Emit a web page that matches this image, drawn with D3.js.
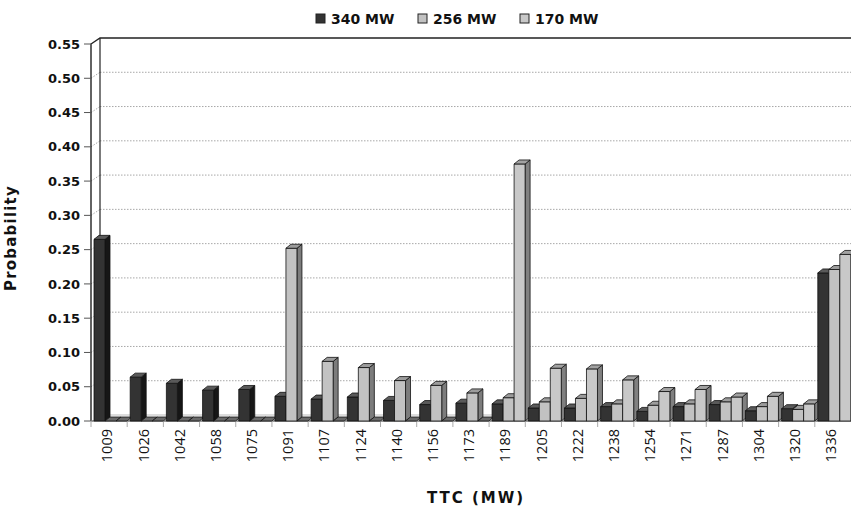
<!DOCTYPE html>
<html>
<head>
<meta charset="utf-8">
<script src="https://cdn.jsdelivr.net/npm/d3@7"></script>
<style>
    body { margin: 0; background: #fff; }
    svg { display: block; font-family: 'DejaVu Sans', sans-serif; }
</style>
</head>
<body>
<svg width="851" height="506"></svg>
<script>
const categories = ['1009', '1026', '1042', '1058', '1075', '1091', '1107', '1124', '1140', '1156', '1173',
    '1189', '1205', '1222', '1238', '1254', '1271', '1287', '1304', '1320', '1336'];
const seriesNames = ['340 MW', '256 MW', '170 MW'];
const values340 = [0.265, 0.064, 0.055, 0.045, 0.046, 0.036, 0.032, 0.035, 0.030, 0.024, 0.026,
    0.025, 0.019, 0.019, 0.021, 0.014, 0.021, 0.024, 0.015, 0.018, 0.216];
const values256 = [0, 0, 0, 0, 0, 0.252, 0.087, 0.078, 0.059, 0.052, 0.041,
    0.034, 0.028, 0.033, 0.025, 0.023, 0.025, 0.028, 0.021, 0.017, 0.221];
const values170 = [0, 0, 0, 0, 0, 0, 0, 0, 0, 0, 0,
    0.375, 0.077, 0.076, 0.060, 0.043, 0.046, 0.035, 0.036, 0.025, 0.243];
const yTicks = [0, 0.05, 0.10, 0.15, 0.20, 0.25, 0.30, 0.35, 0.40, 0.45, 0.50, 0.55];

document.addEventListener('DOMContentLoaded', () => {
    const WALL_DX = 9, WALL_DY = 6,     // depth of the back wall
        BAR_DX = 5, BAR_DY = 4,         // depth of each bar
        LEFT = 91, RIGHT = 851, BOTTOM = 421, TOP = 44;

    const svg = d3.select('svg');

    // face colours for each series: front, side, top
    const colors = [
        { front: '#333333', side: '#161616', top: '#5a5a5a' },
        { front: '#c2c2c2', side: '#7c7c7c', top: '#9c9c9c' },
        { front: '#c8c8c8', side: '#808080', top: '#a2a2a2' }
    ];

    const data = categories.map((c, i) => ({
        cat: c,
        vals: [values340[i], values256[i], values170[i]]
    }));

    const x = d3.scaleBand().domain(categories).range([LEFT, RIGHT]);
    const xs = d3.scaleBand().domain(d3.range(3)).range([3, 36]);
    const y = d3.scaleLinear().domain([0, 0.55]).range([BOTTOM, TOP]);

    // back wall gridlines (dotted) plus the diagonal on the side wall
    const grid = svg.append('g');
    yTicks.slice(1, -1).forEach(v => {
        grid.append('line')
            .attr('x1', LEFT + WALL_DX).attr('x2', RIGHT)
            .attr('y1', y(v) - WALL_DY).attr('y2', y(v) - WALL_DY)
            .attr('stroke', '#a8a8a8').attr('stroke-dasharray', '1.5,1.5');
        grid.append('line')
            .attr('x1', LEFT).attr('x2', LEFT + WALL_DX)
            .attr('y1', y(v)).attr('y2', y(v) - WALL_DY)
            .attr('stroke', '#a8a8a8').attr('stroke-dasharray', '1.5,1.5');
    });

    // walls outline
    svg.append('path')
        .attr('d', `M${LEFT},${BOTTOM} L${LEFT},${y(0.55)} L${LEFT + WALL_DX},${y(0.55) - WALL_DY} L${RIGHT},${y(0.55) - WALL_DY}`)
        .attr('fill', 'none').attr('stroke', '#222').attr('stroke-width', 1.4);
    svg.append('line')
        .attr('x1', LEFT + WALL_DX).attr('x2', LEFT + WALL_DX)
        .attr('y1', y(0.55) - WALL_DY).attr('y2', BOTTOM - WALL_DY)
        .attr('stroke', '#222').attr('stroke-width', 1.2);
    svg.append('line')
        .attr('x1', LEFT + WALL_DX).attr('x2', RIGHT)
        .attr('y1', BOTTOM - WALL_DY).attr('y2', BOTTOM - WALL_DY)
        .attr('stroke', '#bbb');
    svg.append('line')
        .attr('x1', LEFT).attr('x2', RIGHT)
        .attr('y1', BOTTOM).attr('y2', BOTTOM)
        .attr('stroke', '#777').attr('stroke-width', 1.5);

    // y axis ticks + labels
    const yAxis = svg.append('g');
    yTicks.forEach(v => {
        yAxis.append('line')
            .attr('x1', LEFT - 7).attr('x2', LEFT)
            .attr('y1', y(v)).attr('y2', y(v))
            .attr('stroke', '#555');
        yAxis.append('text')
            .attr('x', 80).attr('y', y(v)).attr('dy', '0.36em')
            .attr('text-anchor', 'end')
            .attr('font-size', 13).attr('font-weight', 'bold').attr('fill', '#111')
            .text(v.toFixed(2));
    });

    // x axis ticks at category boundaries
    categories.forEach(c => {
        svg.append('line')
            .attr('x1', x(c)).attr('x2', x(c))
            .attr('y1', BOTTOM).attr('y2', BOTTOM + 6)
            .attr('stroke', '#aaa');
    });

    // bars, left to right so each one covers its neighbour's side face
    const bars = svg.append('g');
    data.forEach(d => {
        d.vals.forEach((v, s) => {
            const x0 = x(d.cat) + xs(s),
                w = xs.bandwidth(),
                yt = y(v),
                c = colors[s];
            const g = bars.append('g').attr('stroke', '#111').attr('stroke-width', 0.8).attr('stroke-linejoin', 'round');
            if (v > 0) {
                g.append('path')
                    .attr('d', `M${x0 + w},${yt} L${x0 + w + BAR_DX},${yt - BAR_DY} L${x0 + w + BAR_DX},${BOTTOM - BAR_DY} L${x0 + w},${BOTTOM} Z`)
                    .attr('fill', c.side);
                g.append('rect')
                    .attr('x', x0).attr('y', yt)
                    .attr('width', w).attr('height', BOTTOM - yt)
                    .attr('fill', c.front);
            }
            g.append('path')
                .attr('d', `M${x0},${yt} L${x0 + BAR_DX},${yt - BAR_DY} L${x0 + w + BAR_DX},${yt - BAR_DY} L${x0 + w},${yt} Z`)
                .attr('fill', v > 0 ? c.top : '#6a6a6a');
        });
    });

    // x tick labels
    categories.forEach(c => {
        svg.append('text')
            .attr('transform', `translate(${x(c) + x.bandwidth() / 2 - 2},429) rotate(-90)`)
            .attr('dy', '0.36em')
            .attr('text-anchor', 'end')
            .attr('font-family', "'Open Sans', sans-serif")
            .attr('font-size', 14.5).attr('fill', '#111')
            .text(c);
    });

    // axis titles
    svg.append('text')
        .attr('x', 476).attr('y', 503)
        .attr('text-anchor', 'middle')
        .attr('font-size', 15).attr('font-weight', 'bold').attr('letter-spacing', 2)
        .attr('fill', '#111')
        .text('TTC  (MW)');

    svg.append('text')
        .attr('transform', 'translate(16,238) rotate(-90)')
        .attr('text-anchor', 'middle')
        .attr('font-size', 15).attr('font-weight', 'bold').attr('letter-spacing', 1.2)
        .attr('fill', '#111')
        .text('Probability');

    // legend
    const legendX = [316, 418, 520];
    const legend = svg.append('g');
    seriesNames.forEach((name, i) => {
        legend.append('rect')
            .attr('x', legendX[i]).attr('y', 14)
            .attr('width', 9).attr('height', 9)
            .attr('fill', colors[i].front).attr('stroke', '#222');
        legend.append('text')
            .attr('x', legendX[i] + 15).attr('y', 23.5)
            .attr('font-size', 14).attr('font-weight', 'bold').attr('fill', '#111')
            .text(name);
    });
});
</script>
</body>
</html>
